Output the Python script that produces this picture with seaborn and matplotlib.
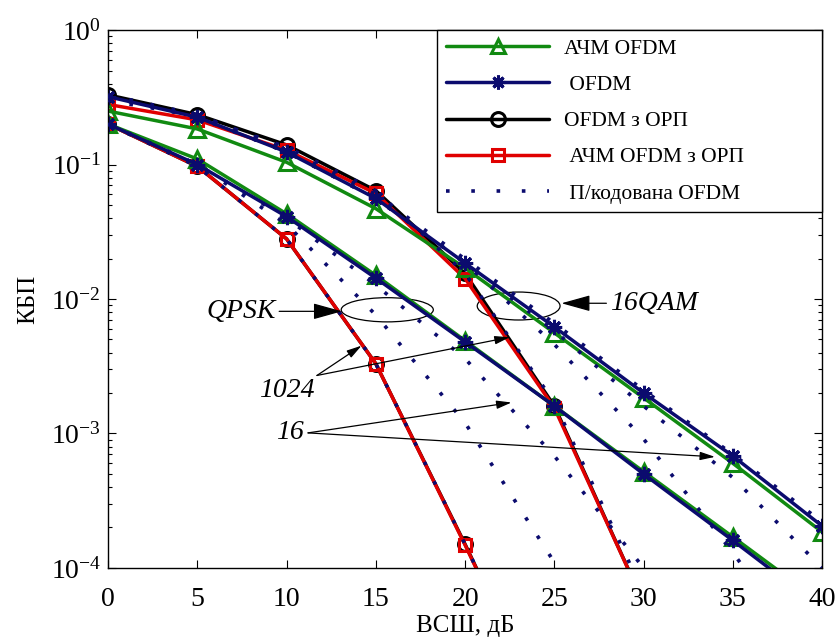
import matplotlib
matplotlib.use('Agg')
import matplotlib.pyplot as plt
from matplotlib.lines import Line2D
from matplotlib.patches import Ellipse
import pandas as pd
import seaborn as sns

# SNR grid, dB
snr = [0, 5, 10, 15, 20, 25, 30, 35, 40]

# 16QAM group
achm_16 = [0.25, 0.184, 0.104, 0.047, 0.017, 0.0056, 0.00184, 6.0e-4, 1.85e-4]
ofdm_16 = [0.32, 0.225, 0.124, 0.056, 0.0185, 0.0062, 0.002, 6.8e-4, 2.05e-4]
ofdm_orp_16 = [0.33, 0.235, 0.14, 0.064, 0.0155, 1.6e-3, 5.5e-5]
achm_orp_16 = [0.28, 0.215, 0.128, 0.061, 0.0142, 1.55e-3, 5.5e-5]

# QPSK group
achm_q = [0.2, 0.11, 0.043, 0.015, 0.0049, 0.0016, 5.2e-4, 1.7e-4, 5.5e-5]
ofdm_q = [0.2, 0.1, 0.041, 0.0143, 0.0048, 0.0016, 5.0e-4, 1.6e-4, 5.0e-5]
ofdm_orp_q = [0.2, 0.097, 0.028, 0.0033, 1.5e-4, 6e-6]
achm_orp_q = [0.2, 0.097, 0.028, 0.0033, 1.48e-4, 6e-6]

# coded OFDM (dotted)
coded = [
    [0.2, 0.097, 0.028, 0.0033, 1.5e-4, 6e-6],
    [0.2, 0.1, 0.036, 0.0076, 0.0012, 1.1e-4, 5e-6],
    [0.2, 0.1, 0.04, 0.0127, 0.0036, 6.8e-4, 1.0e-4, 1e-5],
    [0.3, 0.23, 0.135, 0.064, 0.0155, 1.7e-3, 6.5e-5],
    [0.32, 0.225, 0.124, 0.056, 0.0185, 0.0046, 9.1e-4, 1.3e-4, 1.6e-5],
    [0.32, 0.225, 0.124, 0.056, 0.0185, 0.0058, 0.0016, 4.7e-4, 1.0e-4],
    [0.33, 0.235, 0.13, 0.06, 0.0198, 0.0066, 0.0021, 7.0e-4, 2.2e-4],
]

GREEN = '#118a11'
NAVY = '#0b0b6e'
RED = '#e00000'
BLACK = '#000000'

sns.set_style('ticks')
plt.rcParams['font.family'] = ['Liberation Serif', 'DejaVu Serif']
plt.rcParams['mathtext.fontset'] = 'stix'
for k in ('text.color', 'axes.labelcolor', 'xtick.color', 'ytick.color', 'axes.edgecolor'):
    plt.rcParams[k] = 'black'

fig, ax = plt.subplots(figsize=(8.38, 6.41), dpi=100)
fig.subplots_adjust(left=0.129, right=0.981, top=0.953, bottom=0.114)
ax.set_yscale('log')


def draw(vals, color, marker, ms, mew, lw=2.5, ls='-', z=2):
    df = pd.DataFrame({'snr': snr[:len(vals)], 'ber': vals})
    sns.lineplot(data=df, x='snr', y='ber', ax=ax, color=color, lw=lw, ls=ls,
                 marker=marker, ms=ms, mfc='none', mec=color, mew=mew,
                 estimator=None, sort=False, legend=False, zorder=z)


star = (8, 2, 0)
for v in (ofdm_orp_16, ofdm_orp_q):
    draw(v, BLACK, 'o', 10, 2.2)
for v in (achm_orp_16, achm_orp_q):
    draw(v, RED, 's', 9, 2.2)
for v in (achm_16, achm_q):
    draw(v, GREEN, '^', 11, 2.2)
for v in (ofdm_16, ofdm_q):
    draw(v, NAVY, star, 11, 2.2)
for v in coded:
    draw(v, NAVY, None, 0, 0, lw=2.6, ls=(0, (1, 5)), z=3)

ax.set_xlim(0, 40)
ax.set_ylim(1e-4, 1)
ax.set_xticks(range(0, 41, 5))
ax.tick_params(direction='in', which='both', top=True, right=True,
               labelsize=20, length=6, width=0.8)
ax.tick_params(axis='x', pad=14)
ax.tick_params(axis='y', pad=5)
ax.tick_params(which='minor', length=3)
for s in ax.spines.values():
    s.set_linewidth(1.0)
ax.set_xlabel('ВСШ, дБ', fontsize=18, labelpad=2)
ax.set_ylabel('КБП', fontsize=18, labelpad=8)

# annotations
arrow = dict(arrowstyle='-|>,head_length=0.9,head_width=0.25', color='black',
             lw=0.9, shrinkA=0, shrinkB=0)
tfont = dict(fontsize=20, style='italic')
ax.annotate('QPSK', xy=(13.1, 0.0081), xytext=(9.4, 0.0081),
            ha='right', va='center', arrowprops=arrow, **tfont)
ax.annotate('16QAM', xy=(25.4, 0.0093), xytext=(28.1, 0.0093),
            ha='left', va='center', arrowprops=arrow, **tfont)
ax.annotate('', xy=(14.2, 0.0045), xytext=(11.7, 0.0027), arrowprops=arrow)
ax.annotate('', xy=(22.5, 0.0052), xytext=(11.7, 0.0027), arrowprops=arrow)
ax.text(10.0, 0.0021, '1024', ha='center', va='center', **tfont)
ax.annotate('', xy=(22.6, 0.0017), xytext=(11.2, 0.00101), arrowprops=arrow)
ax.annotate('', xy=(34.0, 6.7e-4), xytext=(11.2, 0.00101), arrowprops=arrow)
ax.text(10.2, 0.00101, '16', ha='center', va='center', **tfont)

ax.add_patch(Ellipse((0.391, 0.480), 0.129, 0.045, transform=ax.transAxes,
                     fill=False, ec='black', lw=0.9))
ax.add_patch(Ellipse((0.575, 0.487), 0.116, 0.052, transform=ax.transAxes,
                     fill=False, ec='black', lw=0.9))

handles = [
    Line2D([], [], color=GREEN, lw=2.5, marker='^', ms=10, mfc='none', mew=2.2),
    Line2D([], [], color=NAVY, lw=2.5, marker=star, ms=10, mew=2.2),
    Line2D([], [], color=BLACK, lw=2.5, marker='o', ms=10, mfc='none', mew=2.2),
    Line2D([], [], color=RED, lw=2.5, marker='s', ms=9, mfc='none', mew=2.2),
    Line2D([], [], color=NAVY, lw=2.6, ls=(0, (1, 6))),
]
labels = ['АЧМ OFDM', ' OFDM', 'OFDM з ОРП', ' АЧМ OFDM з ОРП', ' П/кодована OFDM']
leg = ax.legend(handles, labels, loc='upper right', mode='expand',
                bbox_to_anchor=(0.461, 0.0, 0.539, 1.0), borderaxespad=0,
                fontsize=15.5, handlelength=4.8, handletextpad=0.7,
                fancybox=False, framealpha=1, edgecolor='black',
                labelspacing=0.75, borderpad=0.4)
leg.get_frame().set_linewidth(1.0)

fig.savefig('out.png', dpi=100)
